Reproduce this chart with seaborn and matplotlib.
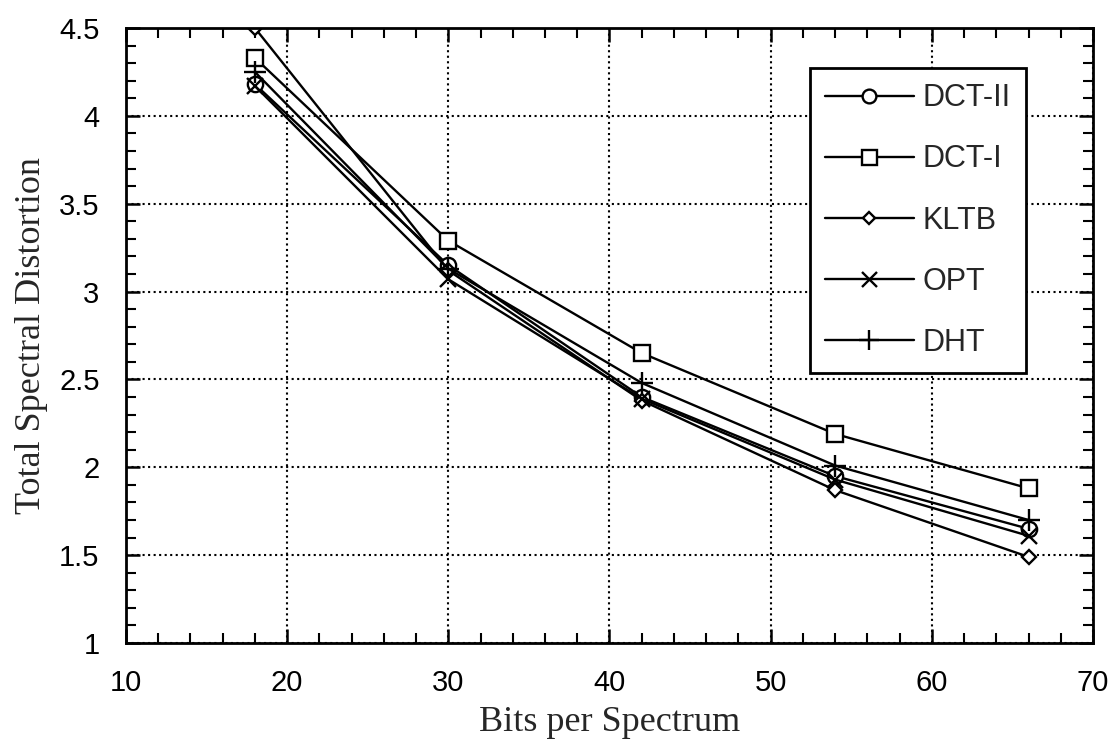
import numpy as np
import pandas as pd
import seaborn as sns
import matplotlib.pyplot as plt
from matplotlib.ticker import MultipleLocator

bits = [18, 30, 42, 54, 66]
dct_ii = [4.18, 3.15, 2.40, 1.95, 1.65]
dct_i = [4.33, 3.29, 2.65, 2.19, 1.88]
kltb = [4.50, 3.12, 2.38, 1.87, 1.49]
opt = [4.17, 3.07, 2.39, 1.93, 1.61]
dht = [4.25, 3.13, 2.48, 2.01, 1.70]

names = ["DCT-II", "DCT-I", "KLTB", "OPT", "DHT"]
series = [dct_ii, dct_i, kltb, opt, dht]
markers = ["o", "s", "D", "x", "+"]
sizes = [11, 12, 7, 12, 16]

sns.set_theme(style="ticks")
plt.rcParams["font.family"] = ["Liberation Sans", "DejaVu Sans"]

fig = plt.figure(figsize=(11.12, 7.43), dpi=100)
ax = fig.add_axes([0.1133, 0.1346, 0.8696, 0.8277])

for name, vals, m, s in zip(names, series, markers, sizes):
    df = pd.DataFrame({"bits": bits, "tsd": vals})
    sns.lineplot(data=df, x="bits", y="tsd", ax=ax, color="black", lw=1.7,
                 marker=m, ms=s, mfc="white", mec="black", mew=1.7, label=name)

ax.set_xlim(10, 70)
ax.set_ylim(1, 4.5)
ax.xaxis.set_major_locator(MultipleLocator(10))
ax.xaxis.set_minor_locator(MultipleLocator(2))
ax.yaxis.set_minor_locator(MultipleLocator(0.1))
ax.set_yticks([1, 1.5, 2, 2.5, 3, 3.5, 4, 4.5])
ax.set_yticklabels(["1", "1.5", "2", "2.5", "3", "3.5", "4", "4.5"])
ax.tick_params(which="both", direction="in", top=True, right=True, colors="black")
ax.tick_params(which="major", length=10, width=1.8, labelsize=21, pad=19)
ax.tick_params(which="minor", length=7, width=1.5)
ax.grid(True, which="major", color="black", linestyle=":", linewidth=1.5)
for sp in ax.spines.values():
    sp.set_linewidth(2)
    sp.set_color("black")

ax.set_xlabel("Bits per Spectrum", family="Liberation Serif", fontsize=26, labelpad=6)
ax.set_ylabel("Total Spectral Distortion", family="Liberation Serif", fontsize=26, labelpad=8)

leg = ax.legend(loc="upper left", bbox_to_anchor=(0.707, 0.935), fontsize=22,
                handlelength=2.9, labelspacing=1.02, borderpad=0.5, handletextpad=0.3,
                borderaxespad=0, frameon=True, fancybox=False, edgecolor="black",
                framealpha=1, markerscale=0.9)
leg.get_frame().set_linewidth(2)

fig.savefig("out.png", dpi=100)
